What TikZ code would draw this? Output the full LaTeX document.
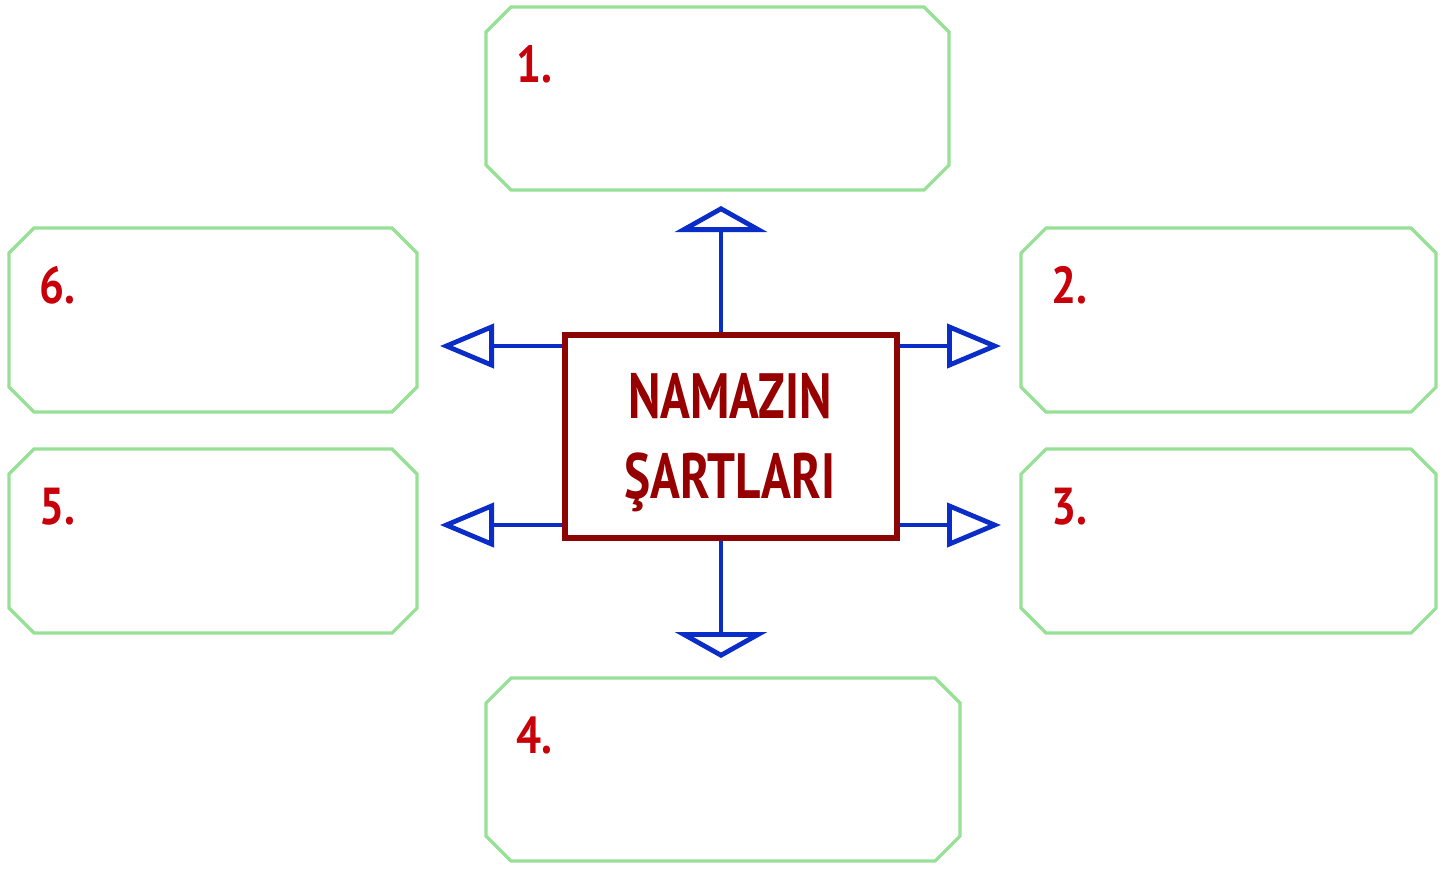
\documentclass[tikz,border=0pt]{standalone}
\usepackage{fontspec}
\setmainfont{PT Sans}
\newfontfamily\narrowfont[FakeStretch=0.77]{PT Sans}
\newfontfamily\numfont[FakeStretch=0.85]{PT Sans}
\usetikzlibrary{arrows.meta}
\definecolor{gline}{RGB}{150,225,150}
\definecolor{cred}{RGB}{140,5,5}
\definecolor{tred}{RGB}{150,0,0}
\definecolor{nred}{RGB}{200,0,10}
\definecolor{bline}{RGB}{10,45,200}
\newcommand\chbox[5]{%
  \draw[gbox] ({#2+25},#3) -- ({#4-25},#3) -- (#4,{#3+25}) -- (#4,{#5-25}) -- ({#4-25},#5) -- ({#2+25},#5) -- (#2,{#5-25}) -- (#2,{#3+25}) -- cycle;
  \coordinate (#1) at ({(#2+#4)/2},{(#3+#5)/2});}
\begin{document}
\begin{tikzpicture}[x=0.5pt,y=-0.5pt,
  gbox/.style={draw=gline,line width=1.6pt,line join=miter},
  cbox/.style={draw=cred,line width=3pt,minimum width=166pt,minimum height=101.5pt,inner sep=0pt},
  ctext/.style={align=center,inner sep=0pt,text=tred,font=\narrowfont\bfseries\fontsize{32}{40}\selectfont},
  num/.style={anchor=base west,inner sep=0pt,text=nred,font=\numfont\bfseries\fontsize{26}{30}\selectfont},
  varrow/.style={draw=bline,line width=2.4pt,-{Triangle[open,length=13pt,width=46pt]}},
  harrow/.style={draw=bline,line width=2.4pt,-{Triangle[open,length=27pt,width=22pt]}}]
\useasboundingbox (0,0) rectangle (1451,868);
\chbox{b1}{486}{7}{949}{190}
\chbox{b6}{9}{228}{417}{412}
\chbox{b5}{9}{449}{417}{633}
\chbox{b2}{1021}{228}{1436}{412}
\chbox{b3}{1021}{449}{1436}{633}
\chbox{b4}{486}{678}{960}{861}
\node[num] (n1) at (516,82) {1.};
\node[num] (n6) at (39,303) {6.};
\node[num] (n5) at (39,524) {5.};
\node[num] (n2) at (1051,303) {2.};
\node[num] (n3) at (1051,524) {3.};
\node[num] (n4) at (516,753) {4.};
\node[cbox] (c) at (730.5,436) {};
\node[ctext] (ct) at (730,443) {NAMAZIN\\ŞARTLARI};
\coordinate (t1) at (721,206);
\coordinate (t2) at (1001,346);
\coordinate (t3) at (1001,525);
\coordinate (t4) at (721,658);
\coordinate (t5) at (440,525);
\coordinate (t6) at (440,346);
\draw[varrow] (c.north -| t1) -- (t1);
\draw[varrow] (c.south -| t4) -- (t4);
\draw[harrow] (c.east |- t2) -- (t2);
\draw[harrow] (c.east |- t3) -- (t3);
\draw[harrow] (c.west |- t5) -- (t5);
\draw[harrow] (c.west |- t6) -- (t6);
\end{tikzpicture}
\end{document}
